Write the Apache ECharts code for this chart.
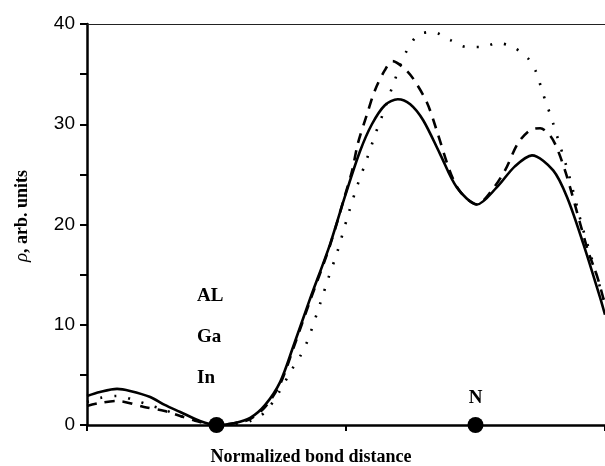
<!DOCTYPE html>
<html>
<head>
<meta charset="utf-8">
<script src="https://cdn.jsdelivr.net/npm/echarts@6/dist/echarts.min.js"></script>
<style>
  html, body { margin: 0; padding: 0; background: #fff; }
  #chart { width: 605px; height: 466px; }
</style>
</head>
<body>
<div id="chart"></div>
<script>
// bond positions (normalized) and atom labels
const atomX = [0.25, 0.75]
const atomY = [0, 0]
const atomLabels = ['', 'N']
const cationLabels = ['AL', 'Ga', 'In']

const yTicks = [0, 10, 20, 30, 40]

// solid curve
const solidX = [0, 0.025, 0.058, 0.083, 0.122, 0.15, 0.18, 0.218, 0.25, 0.286, 0.315, 0.344, 0.373, 0.398, 0.43, 0.469, 0.498, 0.527, 0.55, 0.575, 0.6, 0.624, 0.649, 0.681, 0.714, 0.753, 0.791, 0.826, 0.859, 0.9, 0.927, 0.958, 0.99, 1.0]
const solidY = [2.9, 3.3, 3.6, 3.4, 2.8, 2.0, 1.3, 0.4, 0.0, 0.2, 0.7, 2.0, 4.3, 7.8, 12.5, 18.0, 22.8, 27.3, 30.0, 31.9, 32.5, 32.0, 30.4, 27.1, 23.7, 22.0, 23.7, 25.8, 26.9, 25.4, 22.7, 18.1, 12.8, 11.0]

// dashed curve
const dashX = [0, 0.025, 0.058, 0.11, 0.15, 0.18, 0.218, 0.25, 0.286, 0.315, 0.344, 0.373, 0.398, 0.43, 0.469, 0.498, 0.512, 0.523, 0.54, 0.556, 0.575, 0.59, 0.612, 0.629, 0.656, 0.675, 0.7, 0.72, 0.753, 0.78, 0.807, 0.832, 0.855, 0.875, 0.895, 0.909, 0.927, 0.952, 0.967, 0.985, 1.0]
const dashY = [1.9, 2.2, 2.4, 1.8, 1.4, 0.9, 0.3, 0.0, 0.2, 0.6, 1.8, 4.1, 7.6, 12.3, 17.9, 22.9, 25.4, 28.1, 30.9, 33.4, 35.4, 36.3, 35.6, 34.6, 32.2, 29.4, 25.4, 23.3, 22.0, 23.3, 25.4, 28.1, 29.4, 29.6, 28.8, 27.4, 24.7, 20.1, 17.4, 14.8, 12.0]

// dotted curve
const dotX = [0, 0.025, 0.058, 0.09, 0.12, 0.15, 0.18, 0.218, 0.25, 0.286, 0.315, 0.344, 0.37, 0.395, 0.411, 0.425, 0.445, 0.465, 0.484, 0.502, 0.52, 0.54, 0.56, 0.571, 0.59, 0.614, 0.639, 0.668, 0.701, 0.733, 0.762, 0.793, 0.822, 0.851, 0.868, 0.878, 0.888, 0.898, 0.907, 0.93, 0.955, 0.975, 1.0]
const dotY = [2.3, 2.7, 2.9, 2.5, 2.0, 1.5, 0.9, 0.3, 0.0, 0.1, 0.4, 1.3, 3.2, 5.5, 6.8, 8.3, 11.3, 14.5, 17.4, 20.6, 23.6, 26.5, 29.5, 31.0, 33.8, 37.0, 38.9, 39.2, 38.4, 37.7, 37.7, 38.1, 37.7, 36.6, 35.1, 33.4, 31.9, 30.4, 28.9, 25.0, 20.0, 16.5, 12.0]

const pairs = (xs, ys) => xs.map((x, i) => [x, ys[i]])

const chart = echarts.init(document.getElementById('chart'))
const serif = '"Liberation Serif", "DejaVu Serif", serif'

chart.setOption({
  animation: false,
  backgroundColor: '#fff',
  grid: { left: 87, right: 0, top: 24, bottom: 41 },
  xAxis: [
    {
      type: 'value',
      min: 0,
      max: 1,
      interval: 0.5,
      axisLine: { lineStyle: { color: '#000', width: 2.5 } },
      axisTick: { show: true, length: 6, lineStyle: { color: '#000', width: 2 } },
      axisLabel: { show: false },
      splitLine: { show: false }
    },
    {
      type: 'value',
      position: 'top',
      min: 0,
      max: 1,
      axisLine: { show: true, onZero: false, lineStyle: { color: '#222', width: 1 } },
      axisTick: { show: false },
      axisLabel: { show: false },
      splitLine: { show: false }
    }
  ],
  yAxis: {
    type: 'value',
    min: 0,
    max: 40,
    interval: 10,
    axisLine: { show: true, lineStyle: { color: '#000', width: 2.5 } },
    axisTick: { show: true, length: 7, lineStyle: { color: '#000', width: 2 } },
    minorTick: { show: true, splitNumber: 2, length: 7, lineStyle: { color: '#000', width: 2 } },
    axisLabel: {
      margin: 12,
      fontFamily: '"Liberation Sans", Arial, sans-serif',
      fontSize: 19,
      color: '#000',
      formatter: v => (yTicks.includes(v) ? String(v) : '')
    },
    splitLine: { show: false }
  },
  graphic: [
    ...cationLabels.map((t, i) => ({
      type: 'text',
      left: 197,
      top: 287 + i * 41,
      style: { text: t, fontFamily: serif, fontWeight: 'bold', fontSize: 19, fill: '#000' }
    })),
    {
      type: 'text',
      x: 311,
      y: 457,
      style: {
        text: 'Normalized bond distance',
        fontFamily: serif, fontWeight: 'bold', fontSize: 18, fill: '#000',
        align: 'center', verticalAlign: 'middle'
      }
    },
    {
      type: 'text',
      x: 22,
      y: 216,
      rotation: Math.PI / 2,
      style: {
        text: '{i|ρ}{b|, arb. units}',
        align: 'center',
        verticalAlign: 'middle',
        rich: {
          i: { fontFamily: serif, fontStyle: 'italic', fontSize: 19, fill: '#000' },
          b: { fontFamily: serif, fontWeight: 'bold', fontSize: 18, fill: '#000' }
        }
      }
    }
  ],
  series: [
    {
      name: 'AL',
      type: 'line',
      smooth: 0.3,
      showSymbol: false,
      lineStyle: { color: '#000', width: 2.6 },
      data: pairs(solidX, solidY),
      z: 3
    },
    {
      name: 'Ga',
      type: 'line',
      smooth: 0.3,
      showSymbol: false,
      lineStyle: { color: '#000', width: 2.6, type: [10, 8] },
      data: pairs(dashX, dashY),
      z: 2
    },
    {
      name: 'In',
      type: 'line',
      smooth: 0.3,
      showSymbol: false,
      lineStyle: { color: '#000', width: 2.6, type: [2, 12] },
      data: pairs(dotX, dotY),
      z: 2
    },
    {
      name: 'atoms',
      type: 'scatter',
      symbolSize: 16,
      itemStyle: { color: '#000', opacity: 1 },
      label: {
        show: true,
        position: 'top',
        distance: 9,
        formatter: p => atomLabels[p.dataIndex],
        fontFamily: serif,
        fontWeight: 'bold',
        fontSize: 19,
        color: '#000'
      },
      data: pairs(atomX, atomY),
      z: 5
    }
  ]
})
</script>
</body>
</html>
